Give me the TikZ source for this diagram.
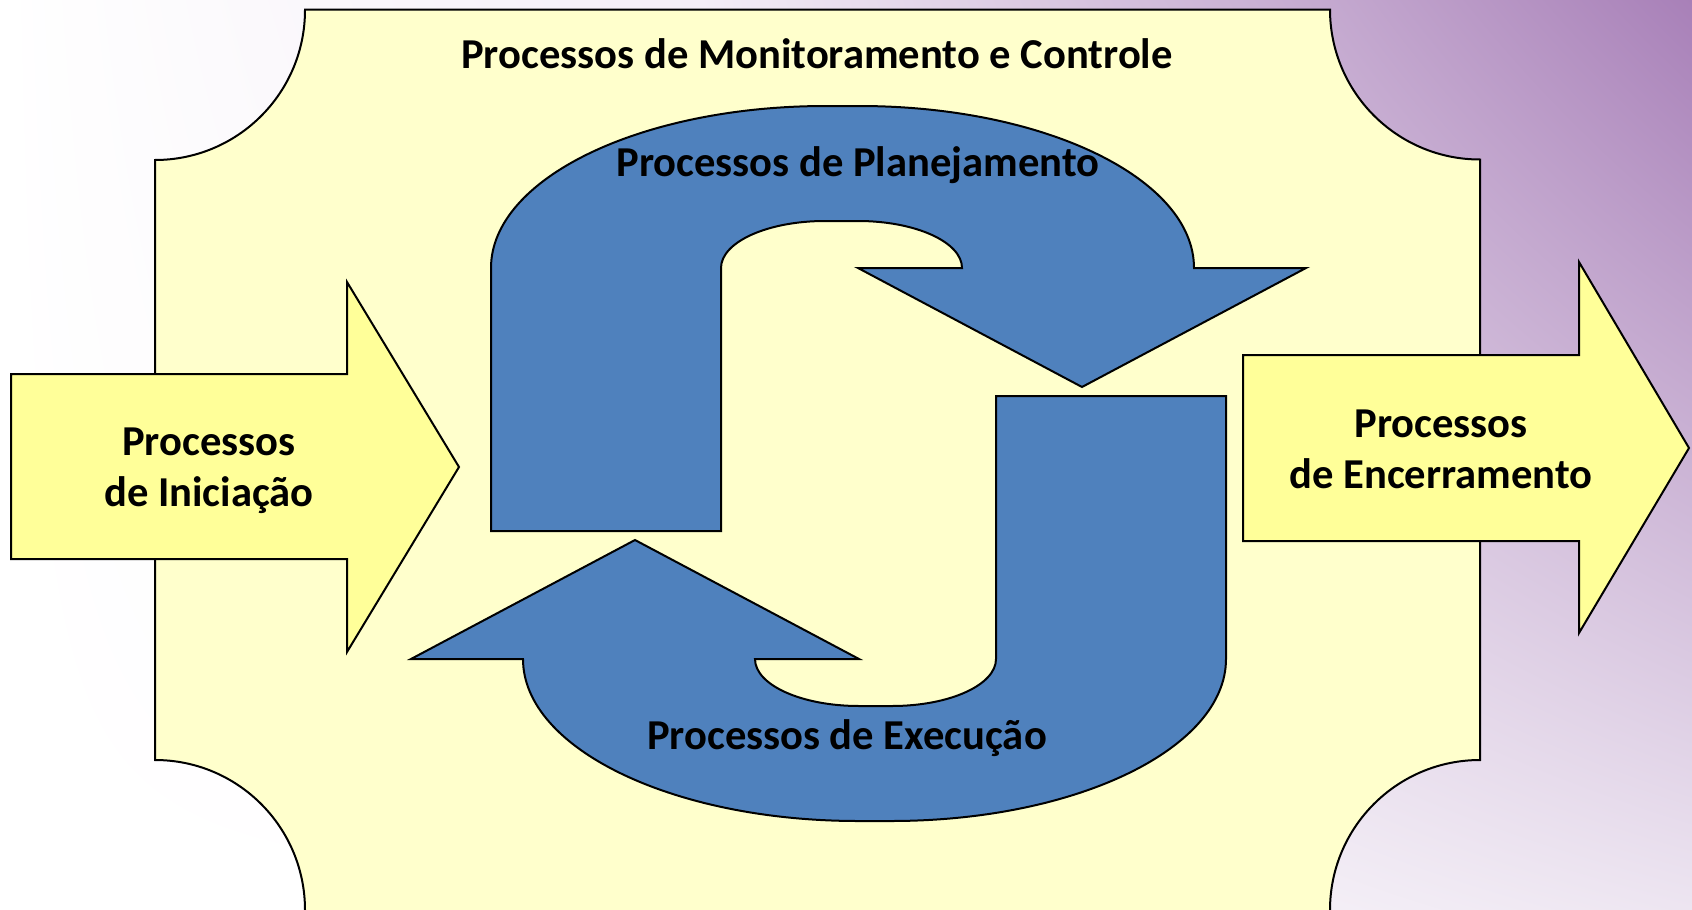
\documentclass[tikz,border=0pt]{standalone}
\usepackage{fontspec}
\setmainfont{Carlito}
\usetikzlibrary{shadings}
\definecolor{fundo}{HTML}{FFFFCC}
\definecolor{amarelo}{HTML}{FFFF99}
\definecolor{azul}{HTML}{4F81BD}
\definecolor{lilas}{HTML}{A880B8}
\definecolor{lilasclaro}{HTML}{F4EEF7}
\definecolor{lilasbaixo}{HTML}{EDE5F1}
\begin{document}
\begin{tikzpicture}[x=0.5pt,y=-0.5pt,
  rotulo/.style={font=\fontsize{21.3}{25.5}\selectfont\bfseries,align=center},
  seta/.style={draw=black,line width=1pt,fill=amarelo},
  volta/.style={draw=black,line width=1pt,fill=azul}]
  \useasboundingbox (0,0) rectangle (1692,910);
  \clip (0,0) rectangle (1692,910);

  % Fundo
  \shade[upper left=white,upper right=lilasclaro,lower left=white,lower right=white] (0,0) rectangle (700,910);
  \shade[upper left=lilasclaro,upper right=lilas,lower left=white,lower right=lilasbaixo] (700,0) rectangle (1692,910);

  % Monitoramento e Controle
  \draw[draw=black,line width=1pt,fill=fundo] (305,9.5) -- (1330,9.5)
    arc[start angle=180,end angle=90,radius=150] -- (1480,760)
    arc[start angle=-90,end angle=-180,radius=150] -- (1330,925) -- (305,925) -- (305,910)
    arc[start angle=0,end angle=-90,radius=150] -- (155,160)
    arc[start angle=90,end angle=0,radius=150] -- cycle;
  \node[rotulo] (Monitoramento) at (817,54) {Processos de Monitoramento e Controle};

  % Iniciação
  \draw[seta] (11,374) -- (347,374) -- (347,282) -- (459,467) -- (347,652) -- (347,559) -- (11,559) -- cycle;
  \node[rotulo] (Iniciacao) at (209,471) {Processos\\de Iniciação};

  % Encerramento
  \draw[seta] (1243,355) -- (1579,355) -- (1579,262) -- (1689,448) -- (1579,633) -- (1579,541) -- (1243,541) -- cycle;
  \node[rotulo] (Encerramento) at (1441,449) {Processos\\de Encerramento};

  % Planejamento
  \draw[volta] (491,531) -- (491,268)
    arc[start angle=180,end angle=270,x radius=335,y radius=162] -- (859,106)
    arc[start angle=270,end angle=360,x radius=335,y radius=162]
    -- (1306,268) -- (1082,387) -- (858,268) -- (962,268)
    arc[start angle=0,end angle=-90,x radius=104,y radius=47] -- (825,221)
    arc[start angle=-90,end angle=-180,x radius=104,y radius=47] -- (721,531) -- cycle;
  \node[rotulo] (Planejamento) at (858,165) {Processos de Planejamento};

  % Execução
  \draw[volta] (1226,396) -- (1226,659)
    arc[start angle=0,end angle=90,x radius=335,y radius=162] -- (858,821)
    arc[start angle=90,end angle=180,x radius=335,y radius=162]
    -- (411,659) -- (635,540) -- (859,659) -- (755,659)
    arc[start angle=180,end angle=90,x radius=104,y radius=47] -- (892,706)
    arc[start angle=90,end angle=0,x radius=104,y radius=47] -- (996,396) -- cycle;
  \node[rotulo] (Execucao) at (847,738) {Processos de Execução};

\end{tikzpicture}
\end{document}
